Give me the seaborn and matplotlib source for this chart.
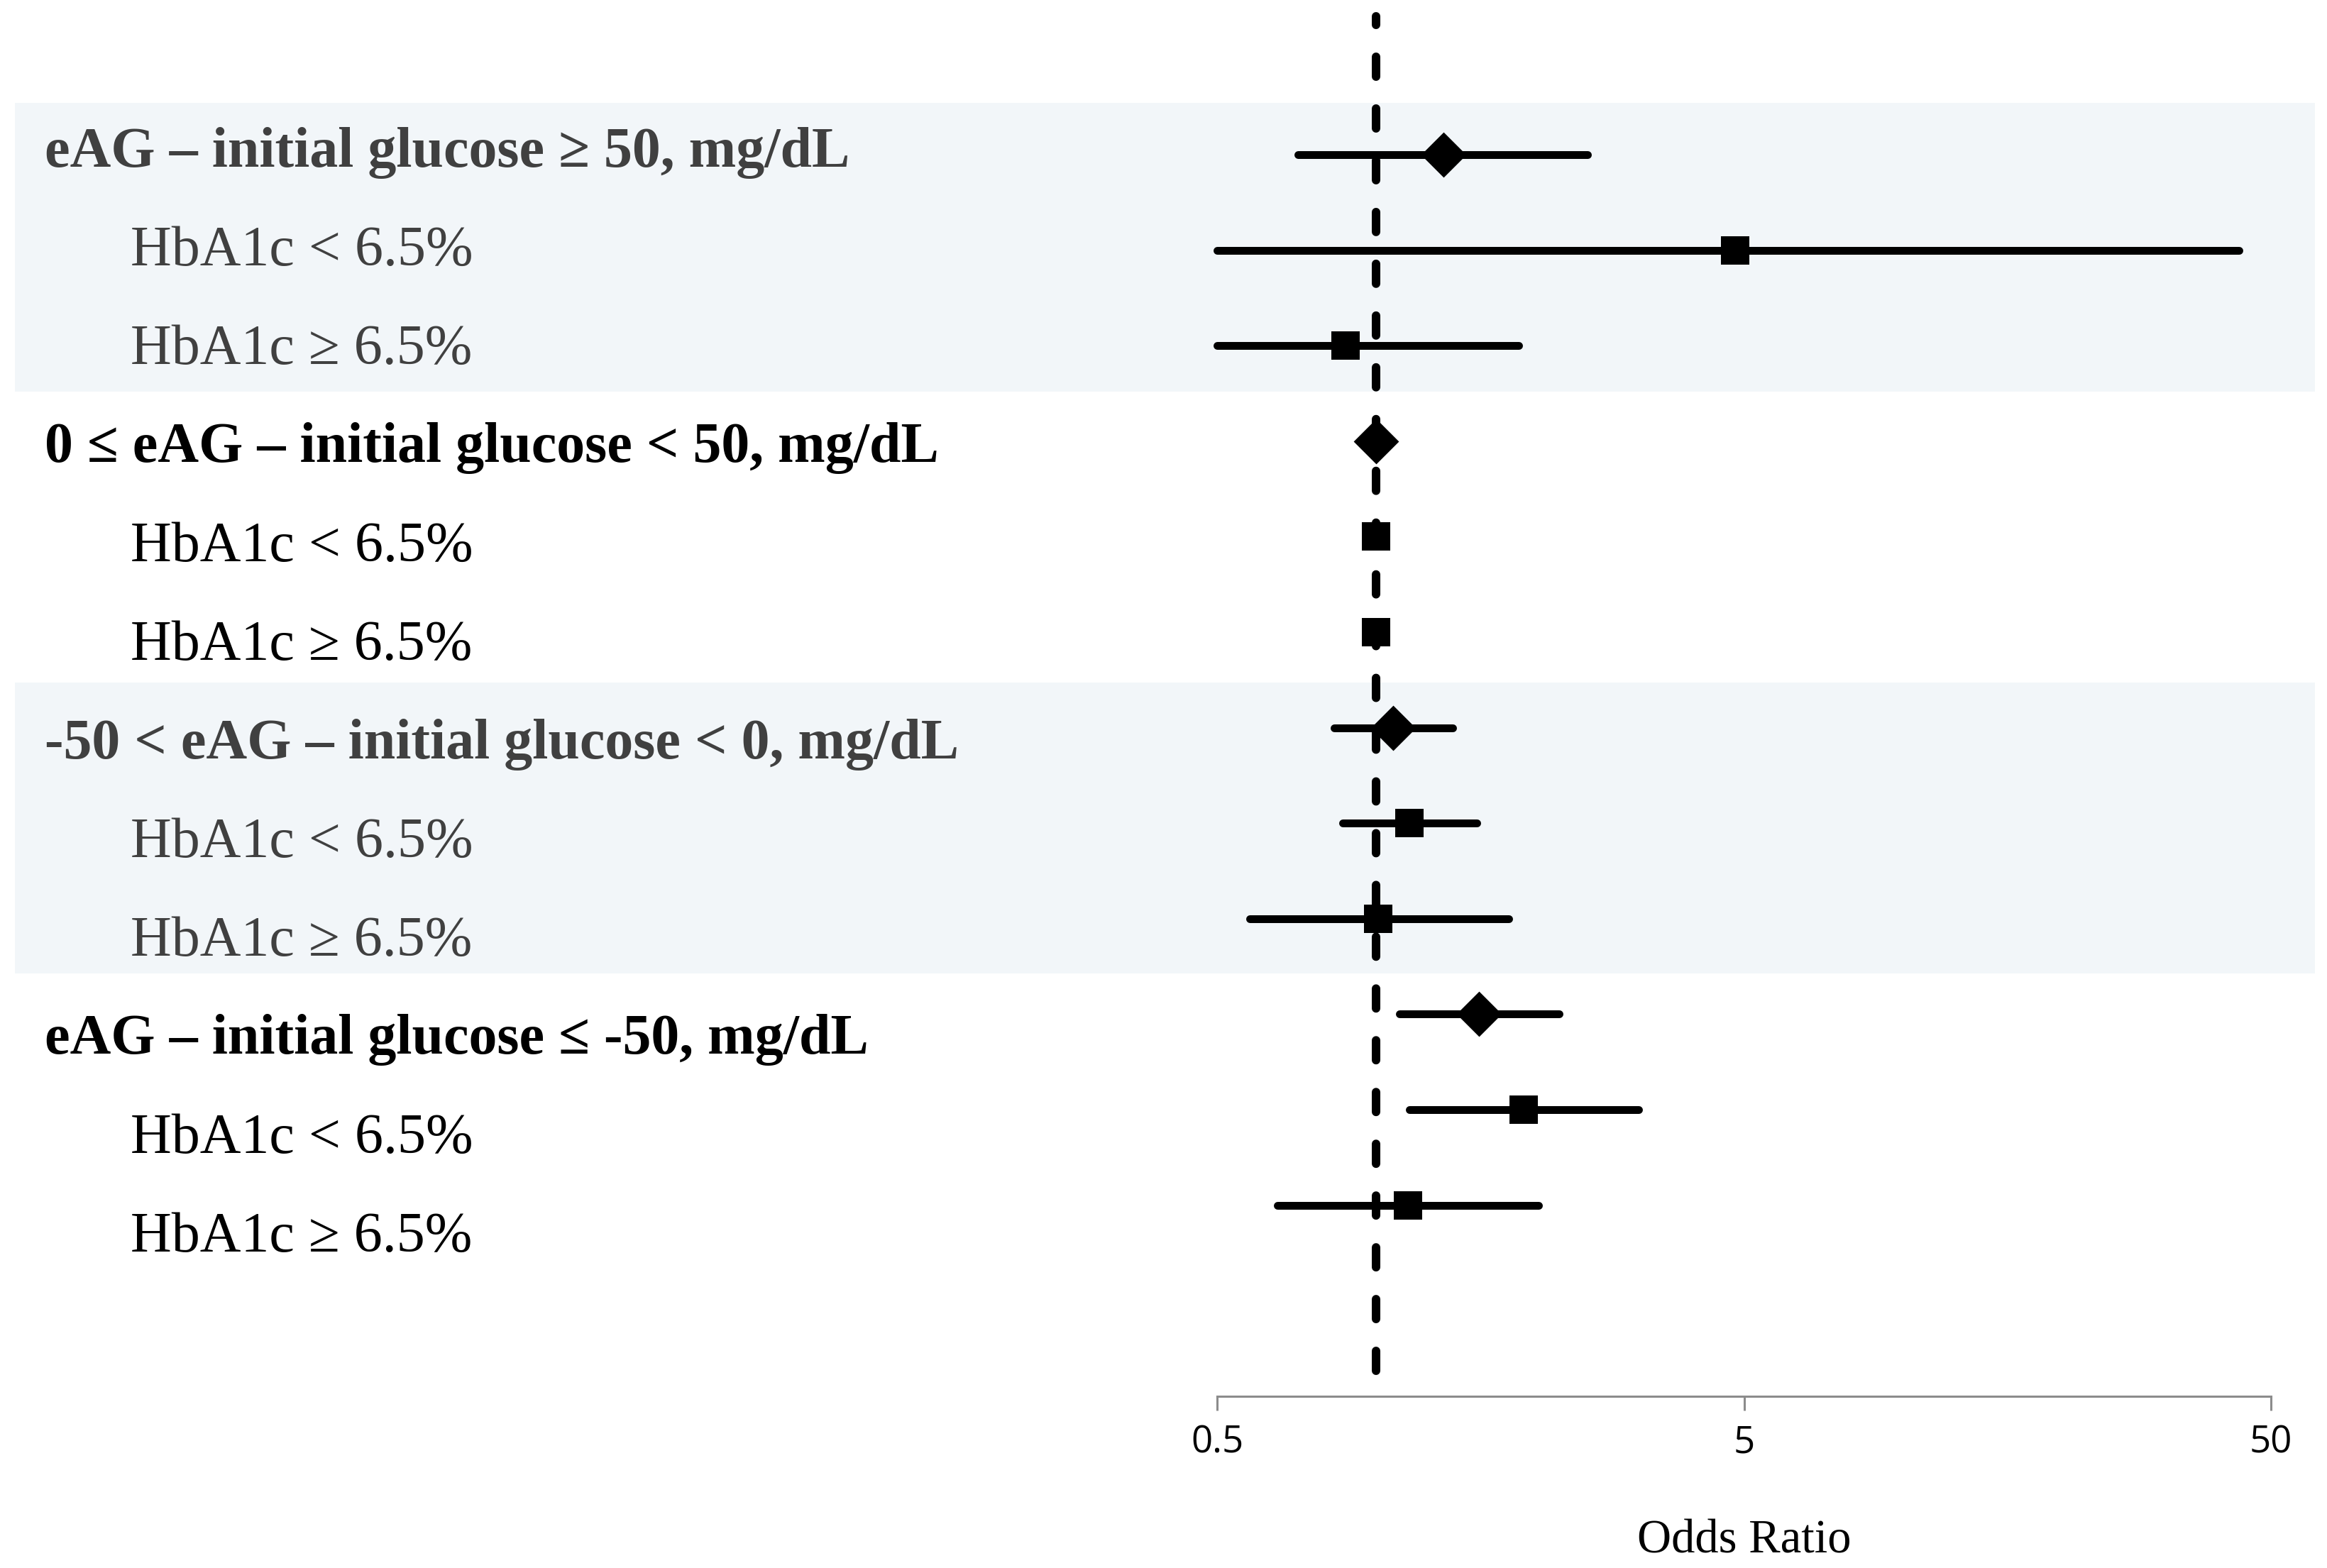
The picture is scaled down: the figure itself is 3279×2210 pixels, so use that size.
import numpy as np
import pandas as pd
import matplotlib
matplotlib.use("Agg")
import matplotlib.pyplot as plt
import matplotlib.transforms as mtransforms
import seaborn as sns

# ---- data -------------------------------------------------------------
labels = [
    "eAG \u2013 initial glucose \u2265 50, mg/dL",
    "HbA1c < 6.5%",
    "HbA1c \u2265 6.5%",
    "0 \u2264 eAG \u2013 initial glucose < 50, mg/dL",
    "HbA1c < 6.5%",
    "HbA1c \u2265 6.5%",
    "-50 < eAG \u2013 initial glucose < 0, mg/dL",
    "HbA1c < 6.5%",
    "HbA1c \u2265 6.5%",
    "eAG \u2013 initial glucose \u2264 -50, mg/dL",
    "HbA1c < 6.5%",
    "HbA1c \u2265 6.5%",
]
row_kind = ["header", "sub", "sub"] * 4
odds_ratio = [1.345, 4.81, 0.877, 1.00, 1.00, 1.00, 1.08, 1.16, 1.01, 1.57, 1.91, 1.15]
ci_lower = [0.711, 0.50, 0.50, 0.98, 0.99, 0.99, 0.835, 0.865, 0.576, 1.11, 1.16, 0.65]
ci_upper = [2.52, 43.5, 1.87, 1.02, 1.01, 1.01, 1.40, 1.555, 1.79, 2.23, 3.15, 2.035]
x_ticks = [0.5, 5, 50]
x_tick_labels = ["0.5", "5", "50"]
x_label = "Odds Ratio"
reference_or = 1.0

df = pd.DataFrame({
    "label": labels,
    "kind": row_kind,
    "or": odds_ratio,
    "lo": ci_lower,
    "hi": ci_upper,
})
df["row"] = np.arange(len(df))
df["group"] = df["row"] // 3

# ---- layout helpers (pixel geometry of the figure) --------------------
W, H = 3279, 2210
ROW0_PX, ROW_STEP_PX = 218.0, 134.6      # marker rows
TEXT0_PX, TEXT_STEP_PX = 215.0, 139.0    # label rows


def px_to_row(px):
    return (px - ROW0_PX) / ROW_STEP_PX


# ---- style ------------------------------------------------------------
sns.set_theme(style="white")
plt.rcParams["font.family"] = ["Liberation Serif", "DejaVu Serif"]

fig = plt.figure(figsize=(W / 100, H / 100), dpi=100)
ax_left, ax_right = 21 / W, 3262 / W
ax_bottom = 1 - 1968 / H
ax = fig.add_axes([ax_left, ax_bottom, ax_right - ax_left, 1 - ax_bottom])
ax.set_facecolor("white")

band_color = "#F2F6F9"
band_px = {0: (145, 552), 2: (962, 1372)}
for g, (top, bot) in band_px.items():
    ax.axhspan(px_to_row(top), px_to_row(bot), color=band_color, lw=0, zorder=0)

# reference line (drawn from the bottom upwards so dash phase matches)
ax.plot([reference_or, reference_or], [px_to_row(1932), px_to_row(23)], color="black",
        lw=8.64, linestyle=(0, (2.33, 3.75)), dash_capstyle="round", zorder=2)

# confidence intervals
ax.hlines(df["row"], df["lo"], df["hi"], color="black", linewidth=7.9,
          capstyle="round", zorder=3)

# point estimates
sns.scatterplot(data=df[df["kind"] == "header"], x="or", y="row", marker="D",
                s=32.5 ** 2, color="black", linewidth=0, legend=False, ax=ax, zorder=4)
sns.scatterplot(data=df[df["kind"] == "sub"], x="or", y="row", marker="s",
                s=28.5 ** 2, color="black", linewidth=0, legend=False, ax=ax, zorder=4)

ax.set_xscale("log")
ax.set_xlim(0.5 / 10 ** ((1715 - 21) / 742.5), 50 * 10 ** ((3262 - 3200) / 742.5))
ax.set_ylim(px_to_row(1968), px_to_row(0))

# row labels
ytrans = ax.get_yaxis_transform()
for _, r in df.iterrows():
    in_band = r["group"] % 2 == 0
    col = "#404040" if in_band else "black"
    ty = px_to_row(TEXT0_PX + TEXT_STEP_PX * r["row"])
    if r["kind"] == "header":
        ax.text((63 - 21) / 3241, ty, r["label"], transform=ytrans,
                fontsize=57.6, fontweight="bold", color=col, va="center", ha="left")
    else:
        ax.text((184 - 21) / 3241, ty, r["label"], transform=ytrans,
                fontsize=57.6, color=col, va="center", ha="left")

# axis styling
for s in ["left", "right", "top"]:
    ax.spines[s].set_visible(False)
ax.spines["bottom"].set_bounds(x_ticks[0], x_ticks[-1])
ax.spines["bottom"].set_color("#8c8c8c")
ax.spines["bottom"].set_linewidth(2.2)
ax.set_xticks(x_ticks)
ax.set_xticklabels(x_tick_labels, fontfamily=["Open Sans", "DejaVu Sans"], fontsize=38)
ax.xaxis.set_minor_locator(matplotlib.ticker.NullLocator())
ax.tick_params(axis="x", direction="out", length=14.4, width=2.2, color="#8c8c8c",
               pad=14, bottom=True, labelcolor="black")
ax.set_yticks([])
ax.set_xlabel("")
ax.set_ylabel("")

xtrans = mtransforms.blended_transform_factory(ax.transData, ax.transAxes)
ax.text(5, -(2172 - 1968) / 1968, x_label, transform=xtrans, fontsize=48,
        ha="center", va="center", color="black")

fig.savefig("out.png", dpi=100, facecolor="white")
